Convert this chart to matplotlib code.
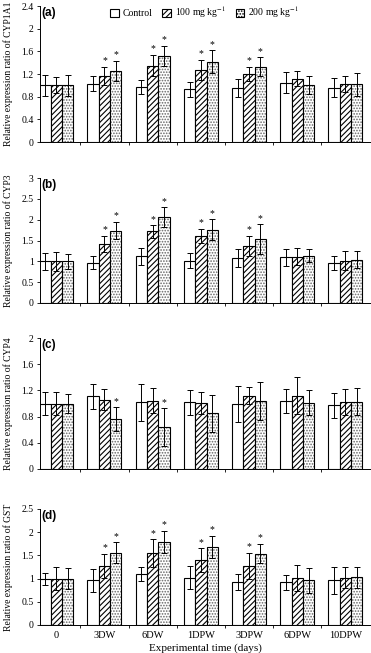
import numpy as np
import matplotlib.pyplot as plt

plt.rcParams['font.family'] = ['Liberation Serif', 'DejaVu Serif']
plt.rcParams['mathtext.fontset'] = 'stix'
plt.rcParams['hatch.linewidth'] = 0.8

days = ['0', '3DW', '6DW', '1DPW', '3DPW', '6DPW', '10DPW']
groups = ['Control', '100 mg kg$^{-1}$', '200 mg kg$^{-1}$']

# (a) CYP1A1
cyp1a1_ctrl = [1.00, 1.03, 0.97, 0.93, 0.96, 1.05, 0.96]
cyp1a1_ctrl_err = [0.18, 0.13, 0.12, 0.13, 0.16, 0.19, 0.17]
cyp1a1_100 = [1.00, 1.17, 1.35, 1.27, 1.20, 1.12, 1.02]
cyp1a1_100_err = [0.14, 0.16, 0.19, 0.18, 0.13, 0.13, 0.14]
cyp1a1_200 = [1.00, 1.25, 1.52, 1.42, 1.33, 1.01, 1.02]
cyp1a1_200_err = [0.18, 0.18, 0.18, 0.20, 0.17, 0.16, 0.20]

# (b) CYP3
cyp3_ctrl = [1.00, 0.97, 1.12, 1.02, 1.08, 1.10, 0.97]
cyp3_ctrl_err = [0.20, 0.15, 0.21, 0.18, 0.21, 0.20, 0.17]
cyp3_100 = [1.00, 1.42, 1.72, 1.61, 1.38, 1.11, 1.02]
cyp3_100_err = [0.23, 0.20, 0.15, 0.17, 0.24, 0.20, 0.23]
cyp3_200 = [1.00, 1.74, 2.06, 1.76, 1.53, 1.14, 1.04]
cyp3_200_err = [0.18, 0.21, 0.24, 0.25, 0.36, 0.16, 0.21]

# (c) CYP4
cyp4_ctrl = [1.00, 1.11, 1.02, 1.02, 0.99, 1.04, 0.97]
cyp4_ctrl_err = [0.17, 0.19, 0.28, 0.19, 0.28, 0.18, 0.19]
cyp4_100 = [1.00, 1.06, 1.04, 1.01, 1.12, 1.12, 1.02]
cyp4_100_err = [0.17, 0.16, 0.19, 0.17, 0.13, 0.28, 0.20]
cyp4_200 = [1.00, 0.76, 0.64, 0.85, 1.04, 1.01, 1.03]
cyp4_200_err = [0.15, 0.18, 0.29, 0.28, 0.29, 0.19, 0.20]

# (d) GST
gst_ctrl = [1.00, 0.96, 1.10, 1.02, 0.92, 0.92, 0.96]
gst_ctrl_err = [0.13, 0.24, 0.15, 0.25, 0.17, 0.16, 0.30]
gst_100 = [1.00, 1.28, 1.55, 1.40, 1.28, 1.02, 1.02]
gst_100_err = [0.25, 0.26, 0.30, 0.25, 0.28, 0.28, 0.22]
gst_200 = [1.00, 1.56, 1.79, 1.68, 1.54, 0.96, 1.03]
gst_200_err = [0.22, 0.22, 0.24, 0.24, 0.21, 0.26, 0.23]

# significant (*) day indices for 100 and 200 mg
sig_cyp1a1 = ([1, 2, 3, 4], [1, 2, 3, 4])
sig_cyp3 = ([1, 2, 3, 4], [1, 2, 3, 4])
sig_cyp4 = ([], [1, 2])
sig_gst = ([1, 2, 3, 4], [1, 2, 3, 4])

panels = [
    ('(a)', 'CYP1A1', [cyp1a1_ctrl, cyp1a1_100, cyp1a1_200],
     [cyp1a1_ctrl_err, cyp1a1_100_err, cyp1a1_200_err], sig_cyp1a1, 2.4, 0.4),
    ('(b)', 'CYP3', [cyp3_ctrl, cyp3_100, cyp3_200],
     [cyp3_ctrl_err, cyp3_100_err, cyp3_200_err], sig_cyp3, 3.0, 0.5),
    ('(c)', 'CYP4', [cyp4_ctrl, cyp4_100, cyp4_200],
     [cyp4_ctrl_err, cyp4_100_err, cyp4_200_err], sig_cyp4, 2.0, 0.4),
    ('(d)', 'GST', [gst_ctrl, gst_100, gst_200],
     [gst_ctrl_err, gst_100_err, gst_200_err], sig_gst, 2.5, 0.5),
]

# axes boxes in pixels (top, bottom) for the 371x653 figure
W, H = 371, 653
boxes = [(6, 142), (178, 303), (338, 469), (509, 625)]
left_px, right_px = 40, 370

hatches = ['', '//////', '......']
hatch_cols = ['black', 'black', '#666666']
x = np.arange(len(days))
w = 0.235

fig = plt.figure(figsize=(W / 100, H / 100), dpi=100)

for (lab, gene, vals, errs, sig, ymax, step), (top, bot) in zip(panels, boxes):
    ax = fig.add_axes([left_px / W, 1 - bot / H, (right_px - left_px) / W, (bot - top) / H])
    for k in range(3):
        # hatch fill (hatch takes the edge colour), then black outline + error bars
        ax.bar(x + (k - 1) * w, vals[k], w, color='white', edgecolor=hatch_cols[k],
               linewidth=0, hatch=hatches[k])
        ax.bar(x + (k - 1) * w, vals[k], w, yerr=errs[k], color='none',
               edgecolor='black', linewidth=0.8,
               error_kw=dict(ecolor='black', elinewidth=0.7, capsize=2, capthick=0.7))
    # legend proxies
    handles = [plt.Rectangle((0, 0), 1, 1, facecolor='white', edgecolor='black',
                             linewidth=0.8, hatch=hatches[k]) for k in range(3)]
    # asterisks
    for k in (1, 2):
        for i in sig[k - 1]:
            ax.annotate('*', (x[i] + (k - 1) * w, vals[k][i] + errs[k][i]),
                        xytext=(0, 1), textcoords='offset points',
                        ha='center', va='bottom', fontsize=7)
    ax.set_xlim(-0.338, 6.51)
    ax.set_ylim(0, ymax)
    yt = np.arange(0, ymax + 1e-6, step)
    ax.set_yticks(yt)
    ax.set_yticklabels(['%g' % round(t, 1) for t in yt])
    ax.set_xticks(x)
    ax.set_xticks(x[:-1] + 0.5, minor=True)
    ax.tick_params(axis='x', which='major', length=0, labelsize=7.5, pad=4)
    ax.tick_params(axis='x', which='minor', length=2.5, width=0.6, direction='out')
    ax.tick_params(axis='y', length=2.5, width=0.6, labelsize=7, pad=2)
    if lab == '(d)':
        ax.set_xticklabels(days)
        ax.set_xlabel('Experimental time (days)', fontsize=8, labelpad=3)
    else:
        ax.set_xticklabels([])
    for s in ('top', 'right'):
        ax.spines[s].set_visible(False)
    for s in ('left', 'bottom'):
        ax.spines[s].set_linewidth(0.7)
    ax.set_ylabel('Relative expression ratio of ' + gene, fontsize=6.9)
    ax.yaxis.set_label_coords(-0.082, 0.5)
    ax.text(0.003, 0.995, lab, transform=ax.transAxes, family='Liberation Sans',
            fontweight='bold', fontsize=8.5, ha='left', va='top')
    if lab == '(a)':
        ax.legend(handles, groups, ncol=3, frameon=False, fontsize=7, loc='upper left',
                  bbox_to_anchor=(0.185, 1.075), handlelength=0.9, handleheight=0.9,
                  handletextpad=0.4, columnspacing=1.0)

fig.savefig('out.png', dpi=100)
